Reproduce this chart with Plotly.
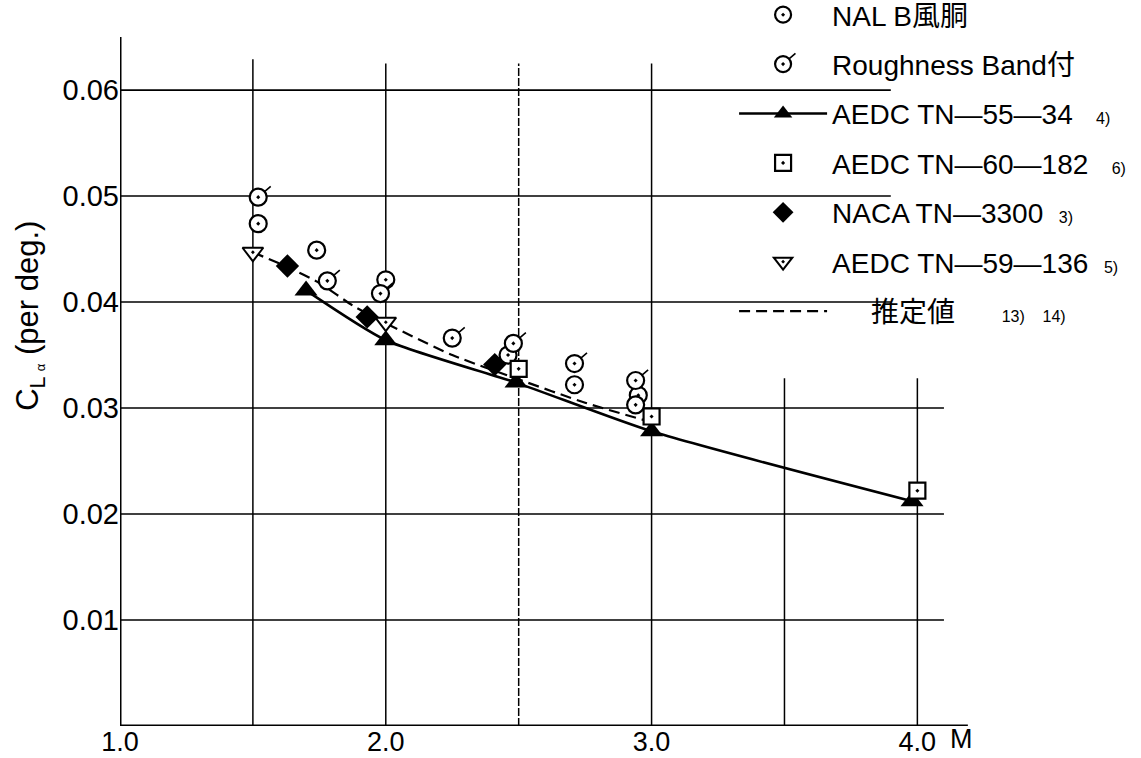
import plotly.graph_objects as go

# ---------------- data ----------------
nal_M = [1.52, 1.74, 2.00, 2.46, 2.71, 2.95, 2.94]
nal_CL = [0.0474, 0.0449, 0.0421, 0.0350, 0.0322, 0.0312, 0.0303]

rough_M = [1.52, 1.78, 1.98, 2.25, 2.48, 2.71, 2.94]
rough_CL = [0.0499, 0.0420, 0.0408, 0.0366, 0.0361, 0.0342, 0.0326]

aedc5534_M = [1.70, 2.00, 2.49, 3.00, 3.98]
aedc5534_CL = [0.0411, 0.0364, 0.0324, 0.0278, 0.0212]

aedc60182_M = [2.50, 3.00, 4.00]
aedc60182_CL = [0.0337, 0.0292, 0.0222]

naca_M = [1.63, 1.93, 2.41]
naca_CL = [0.0434, 0.0386, 0.0341]

aedc59136_M = [1.50, 2.00]
aedc59136_CL = [0.0447, 0.0381]

est_M = [1.50, 1.63, 1.75, 1.88, 2.00, 2.25, 2.50, 2.75, 2.98]
est_CL = [0.0447, 0.0433, 0.0418, 0.0396, 0.0380, 0.0350, 0.0327, 0.0305, 0.0288]

x_ticks = [1.0, 2.0, 3.0, 4.0]
x_ticklabels = ["1.0", "2.0", "3.0", "4.0"]
y_ticks = [0.01, 0.02, 0.03, 0.04, 0.05, 0.06]
y_ticklabels = ["0.01", "0.02", "0.03", "0.04", "0.05", "0.06"]
x_grid = [1.5, 2.0, 2.5, 3.0, 3.5, 4.0]

FONT = "Liberation Sans, Arial, Noto Sans CJK JP, sans-serif"
REF = "<span style='font-size:16px'>%s</span>"
NB = "\u00a0"

fig = go.Figure()

# estimated (dashed) curve
fig.add_trace(go.Scatter(
    x=est_M, y=est_CL, mode="lines",
    name=NB * 5 + "推定値" + NB * 6 + REF % ("13)" + NB * 4 + "14)"),
    line=dict(color="black", width=2.2, dash="11px,6px", shape="spline", smoothing=0.6),
    legendrank=7, legendgroup="g7"))

# AEDC TN-55-34 solid curve with triangles
fig.add_trace(go.Scatter(
    x=aedc5534_M, y=aedc5534_CL, mode="lines+markers",
    name="AEDC TN—55—34" + NB * 3 + REF % "4)",
    line=dict(color="black", width=2.6, shape="spline", smoothing=0.6),
    marker=dict(symbol="triangle-up", size=20, color="black"),
    legendrank=3, legendgroup="g3"))

fig.add_trace(go.Scatter(
    x=naca_M, y=naca_CL, mode="markers", name="NACA TN—3300" + NB * 2 + REF % "3)",
    marker=dict(symbol="diamond", size=18, color="black"),
    legendrank=5, legendgroup="g5"))

fig.add_trace(go.Scatter(
    x=aedc59136_M, y=aedc59136_CL, mode="markers",
    name="AEDC TN—59—136" + NB * 2 + REF % "5)",
    marker=dict(symbol="triangle-down-dot", size=18, color="white",
                line=dict(color="black", width=2)),
    legendrank=6, legendgroup="g6"))

fig.add_trace(go.Scatter(
    x=nal_M, y=nal_CL, mode="markers", name="NAL B風胴",
    marker=dict(symbol="circle-dot", size=17, color="white",
                line=dict(color="black", width=2.2)),
    legendrank=1, legendgroup="g1"))

fig.add_trace(go.Scatter(
    x=rough_M, y=rough_CL, mode="markers", name="Roughness Band付",
    marker=dict(symbol="circle-dot", size=17, color="white",
                line=dict(color="black", width=2.2)),
    legendrank=2, legendgroup="g2"))

fig.add_trace(go.Scatter(
    x=aedc60182_M, y=aedc60182_CL, mode="markers",
    name="AEDC TN—60—182" + NB * 3 + REF % "6)",
    marker=dict(symbol="square-dot", size=16, color="white",
                line=dict(color="black", width=2.2)),
    legendrank=4, legendgroup="g4"))

# roughness ticks
for m, c in zip(rough_M, rough_CL):
    fig.add_annotation(x=m, y=c, xref="x", yref="y", text="", showarrow=True,
                       arrowhead=0, arrowwidth=1.6, arrowcolor="black",
                       ax=14, ay=-12, standoff=8)
# tick on the legend key of "Roughness Band付"
fig.add_annotation(x=0.6564, y=0.9118, xref="paper", yref="paper", text="", showarrow=True,
                   arrowhead=0, arrowwidth=1.6, arrowcolor="black",
                   ax=14, ay=-12, standoff=8)

# gridlines
shapes = []
for yv in y_ticks:
    x_end = 4.1 if yv <= 0.03 else 3.9
    shapes.append(dict(type="line", xref="x", yref="y", x0=1.0, x1=x_end, y0=yv, y1=yv,
                       line=dict(color="black", width=1.6), layer="below"))
for xv in x_grid:
    top = 0.0629 if xv == 1.5 else (0.0625 if xv <= 3.0 else 0.0328)
    shapes.append(dict(type="line", xref="x", yref="y", x0=xv, x1=xv, y0=0, y1=top,
                       line=dict(color="black", width=1.5,
                                 dash="8px,2px" if xv == 2.5 else "solid"), layer="below"))
# axes
shapes.append(dict(type="line", xref="x", yref="y", x0=1.0, x1=1.0, y0=0, y1=0.065,
                   line=dict(color="black", width=3)))
shapes.append(dict(type="line", xref="x", yref="y", x0=1.0, x1=4.19, y0=0, y1=0,
                   line=dict(color="black", width=3)))

fig.update_layout(
    width=1141, height=758,
    margin=dict(l=120, r=11, t=0, b=32, autoexpand=False),
    paper_bgcolor="white", plot_bgcolor="white",
    font=dict(family=FONT, color="black", size=26),
    shapes=shapes,
    xaxis=dict(range=[1.0, 4.8], showgrid=False, zeroline=False, showline=False,
               tickvals=x_ticks, ticktext=x_ticklabels, ticks="",
               tickfont=dict(size=27, family=FONT), automargin=False,
               ticklabelstandoff=-3),
    yaxis=dict(range=[0, 0.0685], showgrid=False, zeroline=False, showline=False,
               tickvals=y_ticks, ticktext=y_ticklabels, ticks="",
               tickfont=dict(size=29, family=FONT), automargin=False),
    legend=dict(x=0.608, y=1.0138, xanchor="left", yanchor="top",
                font=dict(size=28, family=FONT), bgcolor="rgba(0,0,0,0)",
                traceorder="grouped", tracegroupgap=10, itemwidth=88),
    showlegend=True,
)

# y-axis title
fig.add_annotation(x=-0.0891, y=0.565, xref="paper", yref="paper",
                   text="C<sub>L <span style='font-size:13px'>α</span></sub> (per deg.)",
                   textangle=-90, showarrow=False, xanchor="center", yanchor="middle",
                   font=dict(size=31, family=FONT))

fig.add_annotation(x=4.165, y=0, xref="x", yref="paper", text="M", showarrow=False,
                   yanchor="top", yshift=4, font=dict(size=27, family=FONT))

fig.write_html("out.html", config={"displayModeBar": False},
               post_script="document.body.style.margin='0px';")
